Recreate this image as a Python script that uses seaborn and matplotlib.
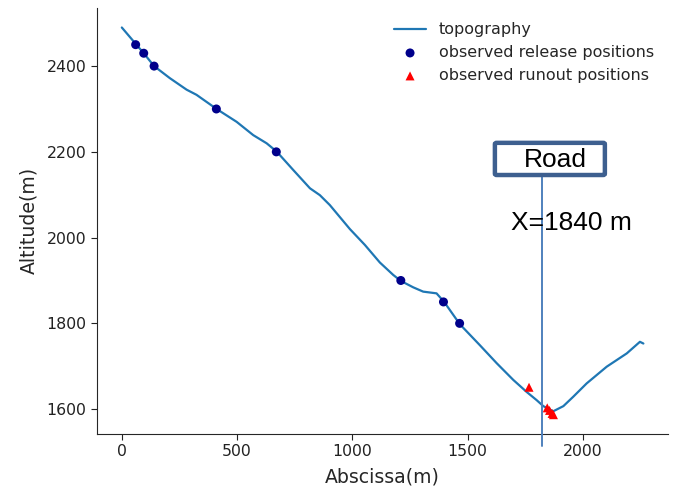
import matplotlib
matplotlib.use("Agg")
import matplotlib.pyplot as plt
from matplotlib.patches import FancyBboxPatch
import seaborn as sns
import pandas as pd

# Topography profile
topo_x = [0, 60, 95, 140, 208, 281, 324, 411, 498, 570, 628, 671, 743, 816, 859,
          902, 989, 1054, 1119, 1177, 1210, 1264, 1307, 1365, 1398, 1466, 1553,
          1626, 1698, 1756, 1799, 1828, 1871, 1915, 1958, 2016, 2103, 2190, 2247, 2262]
topo_y = [2490, 2452, 2430, 2400, 2372, 2345, 2333, 2300, 2270, 2239, 2220, 2201, 2158, 2115, 2099,
          2076, 2020, 1983, 1942, 1913, 1899, 1884, 1874, 1870, 1850, 1798, 1749,
          1707, 1668, 1640, 1621, 1607, 1595, 1607, 1629, 1660, 1699, 1730, 1757, 1753]

# Observed release positions
rel_x = [60, 95, 140, 410, 670, 1210, 1395, 1465]
rel_y = [2450, 2430, 2400, 2300, 2200, 1900, 1850, 1800]

# Observed runout positions
run_x = [1766, 1845, 1855, 1866, 1872]
run_y = [1651, 1603, 1597, 1590, 1587]

road_x = 1822
road_label = "Road"
road_text = "X=1840 m"

sns.set_style("ticks")
plt.rcParams['font.family'] = ['DejaVu Sans']

fig = plt.figure(figsize=(6.73, 4.86), dpi=100)
ax = fig.add_axes([0.144, 0.107, 0.849, 0.877])

topo = pd.DataFrame({"x": topo_x, "y": topo_y})
rel = pd.DataFrame({"x": rel_x, "y": rel_y})
run = pd.DataFrame({"x": run_x, "y": run_y})

sns.lineplot(data=topo, x="x", y="y", ax=ax, color="#1f77b4", lw=1.6,
             label="topography", sort=False)
sns.scatterplot(data=rel, x="x", y="y", ax=ax, color="#00008b", s=42,
                edgecolor="none", label="observed release positions", zorder=3)
sns.scatterplot(data=run, x="x", y="y", ax=ax, color="red", marker="^", s=42,
                edgecolor="none", label="observed runout positions", zorder=3)

ax.set_xlim(-108, 2370)
ax.set_ylim(1542, 2536)
ax.set_xticks([0, 500, 1000, 1500, 2000])
ax.set_yticks([1600, 1800, 2000, 2200, 2400])
ax.tick_params(labelsize=11.3, colors="#222222", length=4)
ax.set_xlabel("Abscissa(m)", fontsize=13.6, labelpad=6)
ax.set_ylabel("Altitude(m)", fontsize=13.6, labelpad=6)
sns.despine(ax=ax)

leg = ax.legend(loc="upper right", frameon=False, fontsize=11.5)

# Road marker (overlay line extending slightly below axis)
ax.plot([road_x, road_x], [1514, 2146], color="#4f81bd", lw=1.4, clip_on=False, zorder=4)
box = FancyBboxPatch((1618, 2146), 477, 75, boxstyle="round,pad=0,rounding_size=8",
                     fc="white", ec="#3d5f8f", lw=3.2, zorder=5, mutation_aspect=0.4)
ax.add_patch(box)
ax.text(1880, 2180, road_label, ha="center", va="center", fontsize=19,
        family="Liberation Sans", color="black", zorder=6)
ax.text(1688, 2035, road_text, ha="left", va="center", fontsize=19,
        family="Liberation Sans", color="black", zorder=6)

fig.savefig("out.png", dpi=100)
